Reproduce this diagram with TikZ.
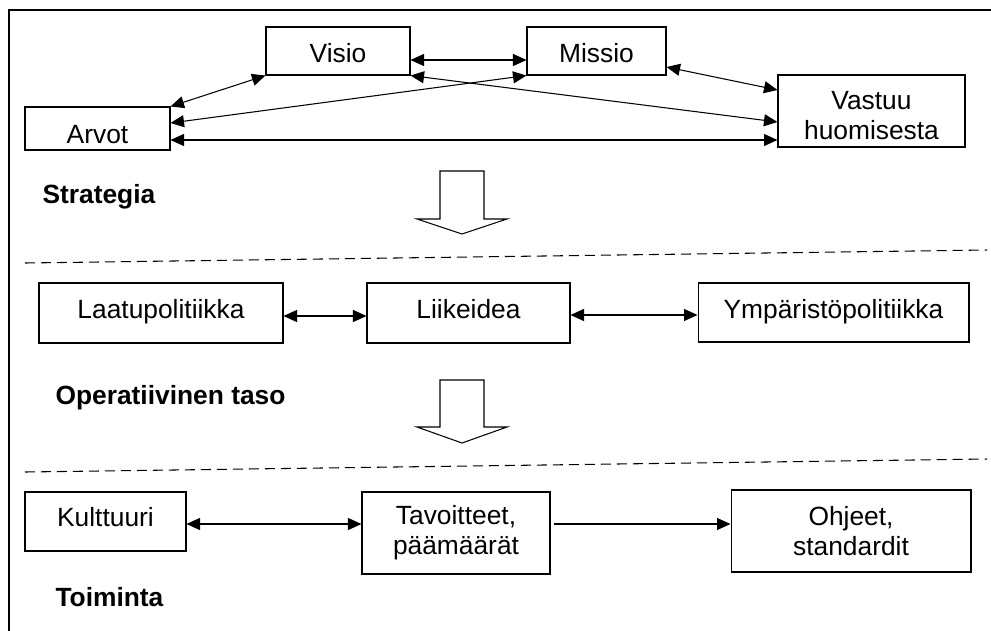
\documentclass[tikz,border=0pt]{standalone}
\usepackage{fontspec}
\setmainfont{Liberation Sans}
\usetikzlibrary{arrows.meta}

\begin{document}
\begin{tikzpicture}[x=0.02cm, y=-0.02cm, line width=0.6pt,
  >={Triangle[length=2.7mm,width=2.4mm]},
  every node/.style={font=\fontsize{15pt}{17pt}\selectfont, inner sep=0pt},
  box/.style={draw, align=center},
  single/.style={box, text height=10.7pt, text depth=0pt},
  lbl/.style={anchor=west, font=\fontsize{15pt}{17pt}\selectfont\bfseries},
  sep/.style={dash pattern=on 2mm off 1.2mm}]
\useasboundingbox (0,0) rectangle (991,630);
\clip (0,0) rectangle (991,630);
\draw[line width=0.8pt] (9,640) -- (9,10) -- (1000,10);

% strategia
\node (visio) [single, text height=13pt, minimum width=2.88cm, minimum height=0.96cm] at (338,51) {Visio};
\node (missio) [single, text height=13pt, minimum width=2.78cm, minimum height=0.96cm] at (596.5,51) {Missio};
\node (arvot) [single, text height=17pt, minimum width=2.9cm, minimum height=0.86cm] at (97.5,128.5) {Arvot};
\node (vastuu) [box, text height=32.8pt, text depth=0pt, minimum width=3.74cm, minimum height=1.44cm] at (871.5,111) {Vastuu\\huomisesta};
\node (strategia) [lbl] at (42,197) {Strategia};
\draw[<->] ([yshift=-0.18cm]visio.east) -- ([yshift=-0.18cm]visio.east -| missio.west);
\draw[<->] (arvot.north east) -- (visio.south west);
\draw[<->] ([yshift=0.11cm]arvot.east) -- (missio.south west);
\draw[<->] (visio.south east) -- ([yshift=-0.22cm]vastuu.west);
\draw[<->] ([yshift=-0.32cm]missio.east) -- ([yshift=0.42cm]vastuu.west);
\draw[<->] ([yshift=-0.23cm]arvot.east) -- ([yshift=-0.23cm]arvot.east -| vastuu.west);
\draw (440,171) -- (484,171) -- (484,219) -- (507,219) -- (462,234) -- (417,219) -- (440,219) -- cycle;
\draw[sep] (25,263) -- (987,250);

% operatiivinen taso
\node (laatu) [single, text depth=4pt, minimum width=4.88cm, minimum height=1.2cm] at (161,313) {Laatupolitiikka};
\node (liike) [single, text depth=4pt, minimum width=4.06cm, minimum height=1.2cm] at (468.5,313) {Liikeidea};
\node (ymparisto) [single, text depth=4pt, minimum width=5.42cm, minimum height=1.18cm] at (833.5,312.5) {Ympäristöpolitiikka};
\node (operatiivinen) [lbl] at (55,398) {Operatiivinen taso};
\draw[<->] ([yshift=-0.06cm]laatu.east) -- ([yshift=-0.06cm]laatu.east -| liike.west);
\draw[<->] ([yshift=-0.04cm]liike.east) -- ([yshift=-0.04cm]liike.east -| ymparisto.west);
\draw (440,380) -- (484,380) -- (484,427) -- (507,427) -- (462,443) -- (417,427) -- (440,427) -- cycle;
\draw[sep] (25,472) -- (987,459);

% toiminta
\node (kulttuuri) [single, text depth=5pt, minimum width=3.22cm, minimum height=1.18cm] at (105.5,521.5) {Kulttuuri};
\node (tavoitteet) [box, minimum width=3.76cm, minimum height=1.64cm] at (456,533) {Tavoitteet,\\päämäärät};
\node (ohjeet) [box, minimum width=4.8cm, minimum height=1.64cm] at (851,531) {Ohjeet,\\standardit};
\node (toiminta) [lbl] at (55,597) {Toiminta};
\draw[<->] ([yshift=-0.05cm]kulttuuri.east) -- ([yshift=-0.05cm]kulttuuri.east -| tavoitteet.west);
\draw[->] ([xshift=0.06cm, yshift=0.18cm]tavoitteet.east) -- ([yshift=0.18cm]tavoitteet.east -| ohjeet.west);
\end{tikzpicture}
\end{document}
